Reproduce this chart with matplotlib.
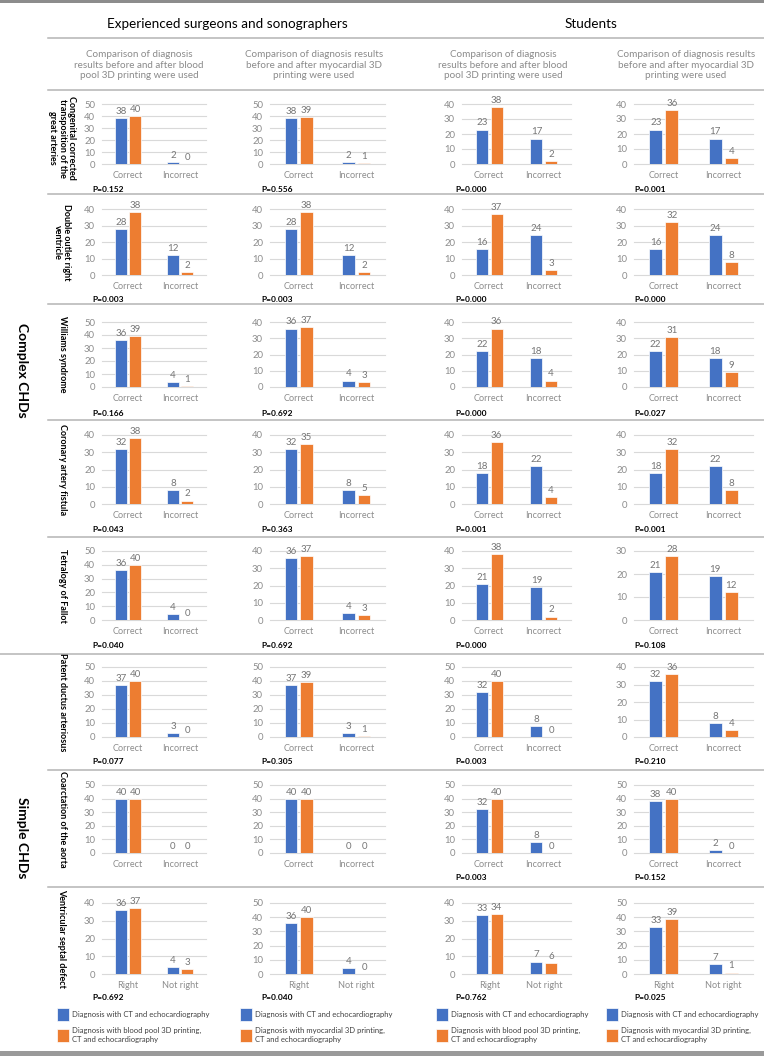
import matplotlib
matplotlib.use("Agg")
import matplotlib.pyplot as plt
from matplotlib.patches import Rectangle
import numpy as np

plt.rcParams['font.family'] = ['Lato', 'DejaVu Sans']

# ---- data ----
diseases = [
    "Congenital corrected\ntransposition of the\ngreat arteries",
    "Double outlet right\nventricle",
    "Williams syndrome",
    "Coronary artery fistula",
    "Tetralogy of Fallot",
    "Patent ductus arteriosus",
    "Coarctation of the aorta",
    "Ventricular septal defect",
]
cats_default = ["Correct", "Incorrect"]
cats_vsd = ["Right", "Not right"]

# [correct, incorrect] per disease
exp_blood_ct = [[38, 2], [28, 12], [36, 4], [32, 8], [36, 4], [37, 3], [40, 0], [36, 4]]
exp_blood_3d = [[40, 0], [38, 2], [39, 1], [38, 2], [40, 0], [40, 0], [40, 0], [37, 3]]
exp_myo_ct = [[38, 2], [28, 12], [36, 4], [32, 8], [36, 4], [37, 3], [40, 0], [36, 4]]
exp_myo_3d = [[39, 1], [38, 2], [37, 3], [35, 5], [37, 3], [39, 1], [40, 0], [40, 0]]
stu_blood_ct = [[23, 17], [16, 24], [22, 18], [18, 22], [21, 19], [32, 8], [32, 8], [33, 7]]
stu_blood_3d = [[38, 2], [37, 3], [36, 4], [36, 4], [38, 2], [40, 0], [40, 0], [34, 6]]
stu_myo_ct = [[23, 17], [16, 24], [22, 18], [18, 22], [21, 19], [32, 8], [38, 2], [33, 7]]
stu_myo_3d = [[36, 4], [32, 8], [31, 9], [32, 8], [28, 12], [36, 4], [40, 0], [39, 1]]

exp_blood_p = ["0.152", "0.003", "0.166", "0.043", "0.040", "0.077", None, "0.692"]
exp_myo_p = ["0.556", "0.003", "0.692", "0.363", "0.692", "0.305", None, "0.040"]
stu_blood_p = ["0.000", "0.000", "0.000", "0.001", "0.000", "0.003", "0.003", "0.762"]
stu_myo_p = ["0.001", "0.000", "0.027", "0.001", "0.108", "0.210", "0.152", "0.025"]

exp_blood_ymax = [50, 40, 50, 40, 50, 50, 50, 40]
exp_myo_ymax = [50, 40, 40, 40, 40, 50, 50, 50]
stu_blood_ymax = [40, 40, 40, 40, 40, 50, 50, 40]
stu_myo_ymax = [40, 40, 40, 40, 30, 40, 50, 50]

subtitle_blood = "Comparison of diagnosis\nresults before and after blood\npool 3D printing were used"
subtitle_myo = "Comparison of diagnosis results\nbefore and after myocardial 3D\nprinting were used"
legend_ct = "Diagnosis with CT and echocardiography"
legend_blood = "Diagnosis with blood pool 3D printing,\nCT and echocardiography"
legend_myo = "Diagnosis with myocardial 3D printing,\nCT and echocardiography"

panels = [
    (exp_blood_ct, exp_blood_3d, exp_blood_p, exp_blood_ymax, subtitle_blood, legend_blood),
    (exp_myo_ct, exp_myo_3d, exp_myo_p, exp_myo_ymax, subtitle_myo, legend_myo),
    (stu_blood_ct, stu_blood_3d, stu_blood_p, stu_blood_ymax, subtitle_blood, legend_blood),
    (stu_myo_ct, stu_myo_3d, stu_myo_p, stu_myo_ymax, subtitle_myo, legend_myo),
]

# ---- layout (pixels) ----
W, H = 764, 1056
BLUE, ORANGE = "#4472C4", "#ED7D31"
LINE = "#b4b4b4"

col_x = [(102, 206), (270, 385), (462, 571), (634, 753)]
col_p_x = [92, 261, 455, 634]
leg_x = [57, 240, 436, 606]
sub_x = [139, 314, 503, 686]
row_top = [104, 209, 322, 435, 551, 667, 785, 903]
row_zero = [164, 275, 387, 504, 620, 737, 853, 974]
p_y = [189, 300, 413, 529, 646, 761, 878, 997]
separators = [194, 304, 420, 537, 654, 770, 887]


def rect(x0, x1, ytop, yzero):
    return [x0 / W, 1 - yzero / H, (x1 - x0) / W, (yzero - ytop) / H]


fig = plt.figure(figsize=(W / 100, H / 100), dpi=100)
bg = fig.add_axes([0, 0, 1, 1], zorder=-1)
bg.set_xlim(0, W)
bg.set_ylim(H, 0)
bg.axis("off")

bg.add_patch(Rectangle((0, 0), W, 3, color="#8c8c8c", lw=0))
bg.add_patch(Rectangle((0, 1051), W, 5, color="#9a9a9a", lw=0))
for y in [38, 90] + separators:
    x0 = 0 if y == 654 else 48
    bg.plot([x0, W], [y, y], color=LINE, lw=1.1)

bg.text(227, 24, "Experienced surgeons and sonographers", ha="center", va="center", fontsize=9.7)
bg.text(591, 24, "Students", ha="center", va="center", fontsize=9.7)
for sx, (_, _, _, _, sub, _) in zip(sub_x, panels):
    bg.text(sx, 65, sub, ha="center", va="center", fontsize=7.1, color="#8a8a8a", linespacing=1.25)

bg.text(22, 370, "Complex CHDs", rotation=-90, ha="center", va="center", fontsize=10, fontweight="bold")
bg.text(22, 838, "Simple CHDs", rotation=-90, ha="center", va="center", fontsize=10, fontweight="bold")

for r, name in enumerate(diseases):
    yc = (row_top[r] + row_zero[r]) / 2 + (4 if r == 0 else 0)
    bg.text(62, yc, name, rotation=-90, ha="center", va="center", fontsize=6.5,
            fontweight="bold", linespacing=1.1)

x = np.arange(2)
bw, off = 0.22, 0.135
for c, (ct, d3, pv, ymax, sub, leg3d) in enumerate(panels):
    for r in range(len(diseases)):
        ax = fig.add_axes(rect(col_x[c][0], col_x[c][1], row_top[r], row_zero[r]))
        b1 = ax.bar(x - off, ct[r], bw, color=BLUE, edgecolor="white", lw=0.5, zorder=3)
        b2 = ax.bar(x + off, d3[r], bw, color=ORANGE, edgecolor="white", lw=0.5, zorder=3)
        for b in (b1, b2):
            ax.bar_label(b, padding=1.5, fontsize=7, color="#767676")
        ax.set_xlim(-0.5, 1.5)
        ax.set_ylim(0, ymax[r])
        ax.set_yticks(range(0, ymax[r] + 1, 10))
        ax.set_xticks(x, cats_vsd if r == 7 else cats_default)
        ax.tick_params(length=0, labelsize=6.8, colors="#8c8c8c")
        ax.tick_params(axis="x", pad=5, labelsize=6.6)
        ax.tick_params(axis="y", pad=5)
        ax.grid(axis="y", color="#d9d9d9", lw=0.8, zorder=0)
        for gl in ax.get_ygridlines():
            gl.set_clip_on(False)
        for s in ax.spines.values():
            s.set_visible(False)
        ax.set_facecolor("none")
        if pv[r] is not None:
            bg.text(col_p_x[c], p_y[r], "P=" + pv[r], ha="left", va="center",
                    fontsize=6.0, fontweight="bold")
        if r == 7:
            leg = ax.legend([b1, b2], [legend_ct, leg3d], loc="upper left",
                            bbox_to_anchor=(leg_x[c] / W, 1 - 1008 / H),
                            bbox_transform=fig.transFigure, frameon=False, fontsize=5.5,
                            handlelength=1.55, handleheight=2.2, handletextpad=0.35,
                            labelspacing=0.85, borderpad=0, borderaxespad=0)
            for t in leg.get_texts():
                t.set_color("#404040")

fig.savefig("out.png", dpi=100)
